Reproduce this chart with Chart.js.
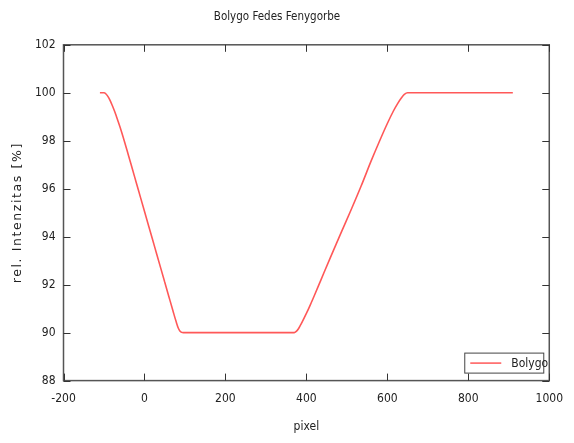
<!DOCTYPE html>
<html>
<head>
<meta charset="utf-8">
<script src="https://cdn.jsdelivr.net/npm/chart.js@4"></script>
<style>
    html, body { margin: 0; padding: 0; background: #fff; }
    #wrap { width: 574px; height: 443px; position: relative; }
</style>
</head>
<body>
<div id="wrap"><canvas id="chart"></canvas></div>
<script>
// light curve
const pixelX = [-110, -100, -95, -90, -85, -80, -75, -70, -65, -60, -50, -40, -30, -20, -10, 0, 10, 20, 30, 40, 50, 60, 70, 78, 84, 88, 92, 96,
    370, 375, 380, 385, 390, 400, 410, 420, 435, 460, 485, 510, 535, 560, 580, 600, 615, 625, 635, 642, 650, 910];
const intensity = [100, 100, 99.95, 99.84, 99.68, 99.49, 99.28, 99.05, 98.8, 98.55, 98.0, 97.42, 96.83, 96.24, 95.65, 95.06, 94.47, 93.88, 93.29, 92.7, 92.11, 91.52, 90.93, 90.47, 90.17, 90.06, 90.01, 90,
    90, 90.05, 90.15, 90.3, 90.46, 90.8, 91.17, 91.56, 92.16, 93.16, 94.14, 95.1, 96.1, 97.16, 97.96, 98.72, 99.24, 99.54, 99.79, 99.93, 100, 100];
const xTicks = [-200, 0, 200, 400, 600, 800, 1000];
const yTicks = [88, 90, 92, 94, 96, 98, 100, 102];
const yTitle = 'rel. Intenzitas [%]';

const FONT = '"DejaVu Sans Condensed", "DejaVu Sans", sans-serif';
const TXT = '#222';
const LINE = 'rgba(255, 70, 70, 0.9)';

// box, inward ticks (mirrored), spaced y title and legend, gnuplot style
const framePlugin = {
    id: 'frame',
    afterDraw(chart) {
        const ctx = chart.ctx;
        const ca = chart.chartArea;
        const xs = chart.scales.x;
        const ys = chart.scales.y;
        ctx.save();
        ctx.strokeStyle = '#555';
        ctx.lineWidth = 1.5;
        ctx.strokeRect(ca.left, ca.top, ca.right - ca.left, ca.bottom - ca.top);
        ctx.lineWidth = 1;
        ctx.strokeStyle = '#333';
        ctx.beginPath();
        xTicks.forEach((v) => {
            const px = Math.round(xs.getPixelForValue(v)) + 0.5;
            ctx.moveTo(px, ca.bottom); ctx.lineTo(px, ca.bottom - 7);
            ctx.moveTo(px, ca.top); ctx.lineTo(px, ca.top + 7);
        });
        yTicks.forEach((v) => {
            const py = Math.round(ys.getPixelForValue(v)) + 0.5;
            ctx.moveTo(ca.left, py); ctx.lineTo(ca.left + 7, py);
            ctx.moveTo(ca.right, py); ctx.lineTo(ca.right - 7, py);
        });
        ctx.stroke();

        // y axis title, letter spaced like the original
        ctx.save();
        ctx.translate(18, (ca.top + ca.bottom) / 2);
        ctx.rotate(-Math.PI / 2);
        ctx.font = '12.5px "DejaVu Sans", sans-serif';
        ctx.letterSpacing = '1.6px';
        ctx.fillStyle = TXT;
        ctx.textAlign = 'center';
        ctx.textBaseline = 'middle';
        ctx.fillText(yTitle, 0, 0);
        ctx.restore();

        // legend
        const ds = chart.data.datasets[0];
        const bw = 79, bh = 20;
        const bx = ca.right - 6 - bw;
        const by = ca.bottom - 8 - bh;
        ctx.fillStyle = '#fff';
        ctx.fillRect(bx, by, bw, bh);
        ctx.strokeStyle = '#444';
        ctx.strokeRect(bx + 0.5, by + 0.5, bw, bh);
        ctx.strokeStyle = ds.borderColor;
        ctx.lineWidth = 1.5;
        ctx.beginPath();
        ctx.moveTo(bx + 6, by + bh / 2 + 0.5);
        ctx.lineTo(bx + 37, by + bh / 2 + 0.5);
        ctx.stroke();
        ctx.fillStyle = TXT;
        ctx.font = '12px ' + FONT;
        ctx.textBaseline = 'middle';
        ctx.fillText(ds.label, bx + 47, by + bh / 2 + 1);
        ctx.restore();
    },
};

new Chart(document.getElementById('chart'), {
    type: 'line',
    data: {
        datasets: [
            {
                label: 'Bolygo',
                data: pixelX.map((x, i) => ({ x: x, y: intensity[i] })),
                borderColor: LINE,
                borderWidth: 1.6,
                pointRadius: 0,
                cubicInterpolationMode: 'monotone',
                fill: false,
            },
        ],
    },
    options: {
        responsive: true,
        maintainAspectRatio: false,
        animation: false,
        layout: { padding: { left: 0, right: 20, top: 0, bottom: 0 } },
        plugins: {
            legend: { display: false },
            tooltip: { enabled: false },
            title: {
                display: true,
                text: 'Bolygo Fedes Fenygorbe',
                color: TXT,
                font: { family: FONT, size: 11.5, weight: 'normal' },
                padding: { top: 10, bottom: 21 },
            },
        },
        scales: {
            x: {
                type: 'linear',
                min: -200,
                max: 1000,
                afterBuildTicks: (s) => { s.ticks = xTicks.map((v) => ({ value: v })); },
                afterFit: (s) => { s.height = 62.4; },
                grid: { display: false, drawTicks: false },
                border: { display: false },
                ticks: {
                    color: TXT,
                    padding: 11,
                    maxRotation: 0,
                    font: { family: FONT, size: 12 },
                    callback: (v) => String(v),
                },
                title: {
                    display: true,
                    text: 'pixel',
                    color: TXT,
                    font: { family: FONT, size: 12 },
                    padding: { top: 0, bottom: 9 },
                },
            },
            y: {
                min: 88,
                max: 102,
                afterBuildTicks: (s) => { s.ticks = yTicks.map((v) => ({ value: v })); },
                afterFit: (s) => { s.width = 63.5; },
                grid: { display: false, drawTicks: false },
                border: { display: false },
                ticks: { color: TXT, padding: 8, font: { family: FONT, size: 12 } },
                title: { display: false },
            },
        },
    },
    plugins: [framePlugin],
});
</script>
</body>
</html>
